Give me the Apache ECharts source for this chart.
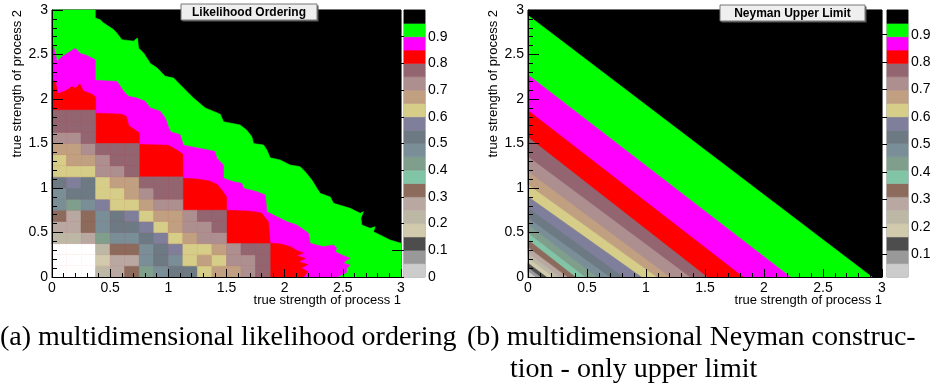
<!DOCTYPE html>
<html>
<head>
<meta charset="utf-8">
<script src="https://cdn.jsdelivr.net/npm/echarts@6/dist/echarts.min.js"></script>
<style>
  html, body { margin: 0; padding: 0; background: #ffffff; }
  #chart { width: 931px; height: 385px; }
</style>
</head>
<body>
<div id="chart"></div>
<script>
// ---------------------------------------------------------------------------
// Colour palette of the confidence-level scale, lowest level first (20 levels).
const paletteColors = [
  '#cccccc', '#999999', '#4d4d4d', '#d1caad', '#bdb8a6',
  '#b9a8a2', '#8c6a5c', '#82c4a6', '#7f9f8c', '#7a8e98',
  '#6d7a84', '#7f7f9b', '#d5cd88', '#c0a080', '#ad8f90',
  '#936570', '#ff0000', '#ff00ff', '#00ff00', '#000000'
];

// z ranges covered by the two colour scales
const likelihoodRange = [0, 1];
const neymanRange = [0.017, 0.99];

// axis tick values
const strengthTicks = [0, 0.5, 1, 1.5, 2, 2.5, 3];
const scaleTicks = [0, 0.1, 0.2, 0.3, 0.4, 0.5, 0.6, 0.7, 0.8, 0.9];

// ---------------------------------------------------------------------------
// (a) likelihood ordering: upper contour lines, traced from the left/top edge
// down to the bottom/right edge, as [process 1, process 2] points.
const likelihoodEdge95 = [
  [0, 3], [0.372, 3], [0.372, 2.91], [0.415, 2.89], [0.443, 2.854], [0.486, 2.817],
  [0.529, 2.78], [0.558, 2.74], [0.60, 2.667], [0.70, 2.65], [0.735, 2.685],
  [0.744, 2.573], [0.787, 2.517], [0.845, 2.40], [0.902, 2.35], [0.973, 2.255],
  [1.045, 2.236], [1.13, 2.124], [1.216, 2.01], [1.317, 1.90], [1.446, 1.83],
  [1.474, 1.745], [1.617, 1.708], [1.674, 1.65], [1.718, 1.576], [1.732, 1.50],
  [1.818, 1.483], [1.847, 1.427], [1.875, 1.34], [1.961, 1.315], [2.047, 1.258],
  [2.133, 1.24], [2.176, 1.183], [2.234, 1.09], [2.277, 0.996], [2.305, 0.94],
  [2.391, 0.90], [2.42, 0.828], [2.563, 0.772], [2.649, 0.716], [2.677, 0.734],
  [2.655, 0.66], [2.663, 0.584], [2.735, 0.547], [2.778, 0.565], [2.763, 0.509],
  [2.82, 0.472], [2.906, 0.416], [3, 0.378], [3, 0]
];
const likelihoodEdge90 = [
  [0, 2.59], [0.014, 2.59], [0.043, 2.42], [0.086, 2.475], [0.129, 2.51], [0.20, 2.57],
  [0.243, 2.51], [0.30, 2.49], [0.372, 2.44], [0.372, 2.21], [0.558, 2.198],
  [0.587, 2.142], [0.615, 2.086], [0.658, 2.03], [0.73, 2.01], [0.80, 1.974],
  [0.845, 1.90], [0.93, 1.862], [0.973, 1.787], [1.0, 1.69], [1.02, 1.63], [1.1, 1.6],
  [1.13, 1.48], [1.25, 1.45], [1.33, 1.43], [1.40, 1.41], [1.417, 1.333], [1.474, 1.258],
  [1.474, 1.109], [1.56, 1.071], [1.632, 1.053], [1.646, 0.996], [1.761, 0.959],
  [1.833, 0.921], [1.847, 0.734], [1.933, 0.678], [2.019, 0.622], [2.105, 0.584],
  [2.205, 0.491], [2.219, 0.378], [2.333, 0.34], [2.42, 0.36], [2.448, 0.322],
  [2.434, 0.284], [2.491, 0.247], [2.563, 0.21], [2.534, 0.191], [2.505, 0.154],
  [2.563, 0.135], [2.534, 0.098], [2.53, 0.05], [2.45, 0]
];
const likelihoodEdge85 = [
  [0, 2.2], [0.03, 2.2], [0.05, 2.06], [0.09, 2.08], [0.13, 2.1], [0.17, 2.14], [0.2, 2.12],
  [0.24, 2.17], [0.27, 2.09], [0.31, 2.07], [0.35, 2.05], [0.375, 2.02], [0.375, 1.84],
  [0.6, 1.83], [0.64, 1.80], [0.66, 1.70], [0.75, 1.62], [0.75, 1.49], [1.0, 1.48],
  [1.08, 1.42], [1.125, 1.38], [1.125, 1.11], [1.25, 1.1], [1.35, 1.08], [1.42, 1.04],
  [1.47, 0.96], [1.5, 0.9], [1.5, 0.75], [1.7, 0.74], [1.8, 0.72], [1.86, 0.62],
  [1.875, 0.38], [1.97, 0.37], [2.05, 0.34], [2.1, 0.3], [2.16, 0.27], [2.1, 0.24],
  [2.18, 0.21], [2.12, 0.17], [2.2, 0.14], [2.14, 0.1], [2.2, 0.06], [2.16, 0]
];
// confidence level filled above / below each traced line (painted back to front)
const likelihoodBandLevels = [0.975, 0.925, 0.875, 0.825];

// Lower-left map of (a): confidence level per 0.125 x 0.125 cell,
// rows from process 2 = 0 upwards, columns from process 1 = 0.
const likelihoodCells = [
  [0, 0, 0, 0.23, 0.28, 0.33, 0.43, 0.48, 0.53, 0.53, 0.63, 0.68, 0.68, 0.73, 0.78],
  [0, 0, 0, 0.18, 0.28, 0.28, 0.48, 0.53, 0.48, 0.63, 0.68, 0.63, 0.73, 0.73, 0.78],
  [0, 0, 0, 0.23, 0.33, 0.33, 0.48, 0.53, 0.58, 0.63, 0.63, 0.68, 0.73, 0.78, 0.78],
  [0.23, 0.23, 0.28, 0.43, 0.48, 0.48, 0.53, 0.58, 0.63, 0.68, 0.73, 0.73],
  [0.28, 0.28, 0.33, 0.48, 0.53, 0.53, 0.58, 0.63, 0.68, 0.73, 0.73, 0.78],
  [0.33, 0.28, 0.33, 0.48, 0.53, 0.58, 0.63, 0.68, 0.68, 0.73, 0.78, 0.78],
  [0.48, 0.43, 0.48, 0.58, 0.63, 0.63, 0.68, 0.73, 0.73],
  [0.48, 0.53, 0.53, 0.63, 0.63, 0.68, 0.73, 0.78, 0.78],
  [0.53, 0.58, 0.53, 0.63, 0.68, 0.68, 0.78, 0.78, 0.78],
  [0.63, 0.63, 0.63, 0.73, 0.73, 0.78],
  [0.63, 0.68, 0.68, 0.73, 0.78, 0.78],
  [0.68, 0.68, 0.73, 0.78, 0.78, 0.78],
  [0.73, 0.73, 0.78],
  [0.78, 0.78, 0.78],
  [0.78, 0.78, 0.78]
];

// ---------------------------------------------------------------------------
// (b) Neyman upper limit: each level boundary is a straight line, given by its
// crossing with the process-2 axis (left edge) and the process-1 axis (bottom).
const neymanEdgeLeftY = [
  0.06, 0.105, 0.155, 0.21, 0.266, 0.33, 0.416, 0.491, 0.584, 0.66,
  0.772, 0.902, 1.034, 1.183, 1.35, 1.57, 1.87, 2.27, 2.94
];
const neymanEdgeBottomX = [
  0.06, 0.105, 0.155, 0.21, 0.266, 0.33, 0.40, 0.48, 0.58, 0.69,
  0.805, 0.96, 1.087, 1.20, 1.37, 1.517, 1.822, 2.223, 2.915
];

// ---------------------------------------------------------------------------
const CELL = 0.125;
const FONT = 'Liberation Sans, Arial, Helvetica, sans-serif';
const CAPTION_FONT = '28px "Liberation Serif", "Times New Roman", serif';

function levelColor(z, range) {
  if (z <= range[0]) return '#ffffff';
  const n = paletteColors.length;
  const step = (range[1] - range[0]) / n;
  const k = Math.max(0, Math.min(n - 1, Math.floor((z - range[0]) / step)));
  return paletteColors[k];
}

function levelMid(k, range) {
  const step = (range[1] - range[0]) / paletteColors.length;
  return range[0] + (k + 0.5) * step;
}

// Polygons of panel (a), painted back to front.
const likelihoodPolys = [
  { z: likelihoodBandLevels[0], pts: [[0, 0], [0, 3], [3, 3], [3, 0]] },
  { z: likelihoodBandLevels[1], pts: likelihoodEdge95.concat([[0, 0]]) },
  { z: likelihoodBandLevels[2], pts: likelihoodEdge90.concat([[0, 0]]) },
  { z: likelihoodBandLevels[3], pts: likelihoodEdge85.concat([[0, 0]]) }
];

// Polygons of panel (b): the full square at the top level, then the
// triangle below each boundary line, from the highest line down.
const neymanPolys = [{ z: levelMid(paletteColors.length - 1, neymanRange), pts: [[0, 0], [0, 3], [3, 3], [3, 0]] }];
for (let k = neymanEdgeLeftY.length - 1; k >= 0; k--) {
  neymanPolys.push({
    z: levelMid(k, neymanRange),
    pts: [[0, 0], [0, neymanEdgeLeftY[k]], [neymanEdgeBottomX[k], 0]]
  });
}

const likelihoodCellData = [];
likelihoodCells.forEach((row, j) => {
  row.forEach((z, i) => {
    if (z !== null) likelihoodCellData.push([i * CELL, j * CELL, z]);
  });
});

function polyRenderer(polys, range) {
  return function (params, api) {
    const p = polys[params.dataIndex];
    const color = levelColor(p.z, range);
    return {
      type: 'polygon',
      shape: { points: p.pts.map(pt => api.coord(pt)) },
      style: { fill: color, stroke: color, lineWidth: 0.6 }
    };
  };
}

function cellRenderer(range) {
  return function (params, api) {
    const x0 = api.value(0), y0 = api.value(1), z = api.value(2);
    const a = api.coord([x0, y0 + CELL]);
    const b = api.coord([x0 + CELL, y0]);
    const color = levelColor(z, range);
    return {
      type: 'rect',
      shape: { x: a[0], y: a[1], width: b[0] - a[0], height: b[1] - a[1] },
      style: { fill: color, stroke: color, lineWidth: 0.6 }
    };
  };
}

function scaleRenderer(range) {
  return function (params, api) {
    const n = paletteColors.length;
    const step = (range[1] - range[0]) / n;
    const k = params.dataIndex;
    const a = api.coord([0, range[0] + (k + 1) * step]);
    const b = api.coord([1, range[0] + k * step]);
    return {
      type: 'rect',
      shape: { x: a[0], y: a[1], width: b[0] - a[0], height: b[1] - a[1] },
      style: { fill: paletteColors[k], stroke: paletteColors[k], lineWidth: 0.6 }
    };
  };
}

function strengthXAxis(gridIndex) {
  return {
    gridIndex, type: 'value',
    min: strengthTicks[0], max: strengthTicks[strengthTicks.length - 1],
    interval: strengthTicks[1] - strengthTicks[0],
    z: 10,
    axisLine: { show: true, onZero: false, lineStyle: { color: '#000', width: 1 } },
    axisTick: { show: true, inside: true, length: 8, lineStyle: { color: '#000', width: 1 } },
    minorTick: { show: true, splitNumber: 5, length: 4, lineStyle: { color: '#000', width: 1 } },
    axisLabel: { color: '#000', fontSize: 14, fontFamily: FONT, margin: 4, showMinLabel: true, showMaxLabel: true },
    splitLine: { show: false }, minorSplitLine: { show: false }
  };
}

function strengthYAxis(gridIndex) {
  return {
    gridIndex, type: 'value',
    min: strengthTicks[0], max: strengthTicks[strengthTicks.length - 1],
    interval: strengthTicks[1] - strengthTicks[0],
    z: 10,
    axisLine: { show: true, onZero: false, lineStyle: { color: '#000', width: 1 } },
    axisTick: { show: true, inside: true, length: 11, lineStyle: { color: '#000', width: 1 } },
    minorTick: { show: true, splitNumber: 5, length: 5, lineStyle: { color: '#000', width: 1 } },
    axisLabel: { color: '#000', fontSize: 14, fontFamily: FONT, margin: 4, showMinLabel: true, showMaxLabel: true },
    splitLine: { show: false }, minorSplitLine: { show: false }
  };
}

function scaleXAxis(gridIndex) {
  return { gridIndex, type: 'value', min: 0, max: 1, show: false };
}

// framed panel title with a drop shadow
function titleBox(x, y, w, h, text) {
  return [
    { type: 'rect', x: x + 1.5, y: y + 1.5, z: 100, shape: { width: w, height: h }, style: { fill: '#555555' } },
    { type: 'rect', x, y, z: 101, shape: { width: w, height: h }, style: { fill: '#efefef', stroke: '#777777', lineWidth: 1 } },
    { type: 'text', x: x + w / 2, y: y + h / 2 + 0.5, z: 102,
      style: { text, font: 'bold 12px ' + FONT, fill: '#000', align: 'center', verticalAlign: 'middle' } }
  ];
}

function label(x, y, text, extra) {
  return Object.assign({ type: 'text', x, y, z: 100,
    style: { text, font: '13px ' + FONT, fill: '#000', align: 'right', verticalAlign: 'middle' } }, extra || {});
}

function caption(x, y, text) {
  return { type: 'text', x, y, z: 100,
    style: { text, font: CAPTION_FONT, fill: '#000', align: 'left', verticalAlign: 'middle' } };
}

const chart = echarts.init(document.getElementById('chart'), null, { renderer: 'canvas' });

chart.setOption({
  animation: false,
  backgroundColor: '#ffffff',
  textStyle: { fontFamily: FONT },
  grid: [
    { left: 52, top: 10, width: 349, height: 267, show: true, borderColor: '#444', borderWidth: 1, backgroundColor: '#fff', outerBoundsMode: 'none', containLabel: false },
    { left: 404, top: 10, width: 21, height: 267, show: true, borderColor: '#888', borderWidth: 1, outerBoundsMode: 'none', containLabel: false },
    { left: 528, top: 10, width: 354, height: 267, show: true, borderColor: '#444', borderWidth: 1, backgroundColor: '#fff', outerBoundsMode: 'none', containLabel: false },
    { left: 887, top: 10, width: 21, height: 267, show: true, borderColor: '#888', borderWidth: 1, outerBoundsMode: 'none', containLabel: false }
  ],
  xAxis: [strengthXAxis(0), scaleXAxis(1), strengthXAxis(2), scaleXAxis(3)],
  yAxis: [
    strengthYAxis(0),
    {
      gridIndex: 1, type: 'value', position: 'right',
      min: likelihoodRange[0], max: likelihoodRange[1],
      interval: scaleTicks[1] - scaleTicks[0], z: 10,
      axisLine: { show: false },
      axisTick: { show: true, inside: true, length: 12, lineStyle: { color: '#000', width: 1 } },
      axisLabel: { color: '#000', fontSize: 14, fontFamily: FONT, margin: 3, showMinLabel: true, showMaxLabel: false },
      splitLine: { show: false }
    },
    strengthYAxis(2),
    {
      gridIndex: 3, type: 'value', position: 'right',
      min: neymanRange[0], max: neymanRange[1],
      splitNumber: scaleTicks.length, z: 10,
      axisLine: { show: false },
      axisTick: { show: true, inside: true, length: 12, lineStyle: { color: '#000', width: 1 } },
      axisLabel: { color: '#000', fontSize: 14, fontFamily: FONT, margin: 3, showMinLabel: false, showMaxLabel: false },
      splitLine: { show: false }
    }
  ],
  series: [
    {
      name: 'Likelihood Ordering contours', type: 'custom', xAxisIndex: 0, yAxisIndex: 0,
      data: likelihoodPolys.map((p, i) => [i, p.z]),
      renderItem: polyRenderer(likelihoodPolys, likelihoodRange), silent: true
    },
    {
      name: 'Likelihood Ordering cells', type: 'custom', xAxisIndex: 0, yAxisIndex: 0,
      data: likelihoodCellData, encode: { x: 0, y: 1 },
      renderItem: cellRenderer(likelihoodRange), silent: true
    },
    {
      name: 'Likelihood scale', type: 'custom', xAxisIndex: 1, yAxisIndex: 1,
      data: paletteColors.map((c, k) => [k]),
      renderItem: scaleRenderer(likelihoodRange), silent: true
    },
    {
      name: 'Neyman Upper Limit bands', type: 'custom', xAxisIndex: 2, yAxisIndex: 2,
      data: neymanPolys.map((p, i) => [i, p.z]),
      renderItem: polyRenderer(neymanPolys, neymanRange), silent: true
    },
    {
      name: 'Neyman scale', type: 'custom', xAxisIndex: 3, yAxisIndex: 3,
      data: paletteColors.map((c, k) => [k]),
      renderItem: scaleRenderer(neymanRange), silent: true
    }
  ],
  graphic: [].concat(
    titleBox(181, 4, 136, 16, 'Likelihood Ordering'),
    titleBox(720, 5, 145, 16, 'Neyman Upper Limit'),
    [
      label(401, 300, 'true strength of process 1'),
      label(882, 300, 'true strength of process 1'),
      label(17, 10, 'true strength of process 2', { rotation: Math.PI / 2 }),
      label(493, 10, 'true strength of process 2', { rotation: Math.PI / 2 }),
      caption(0, 338, '(a) multidimensional likelihood ordering'),
      caption(467, 338, '(b) multidimensional Neyman construc-'),
      caption(510, 370, 'tion - only upper limit')
    ]
  )
});
</script>
</body>
</html>
